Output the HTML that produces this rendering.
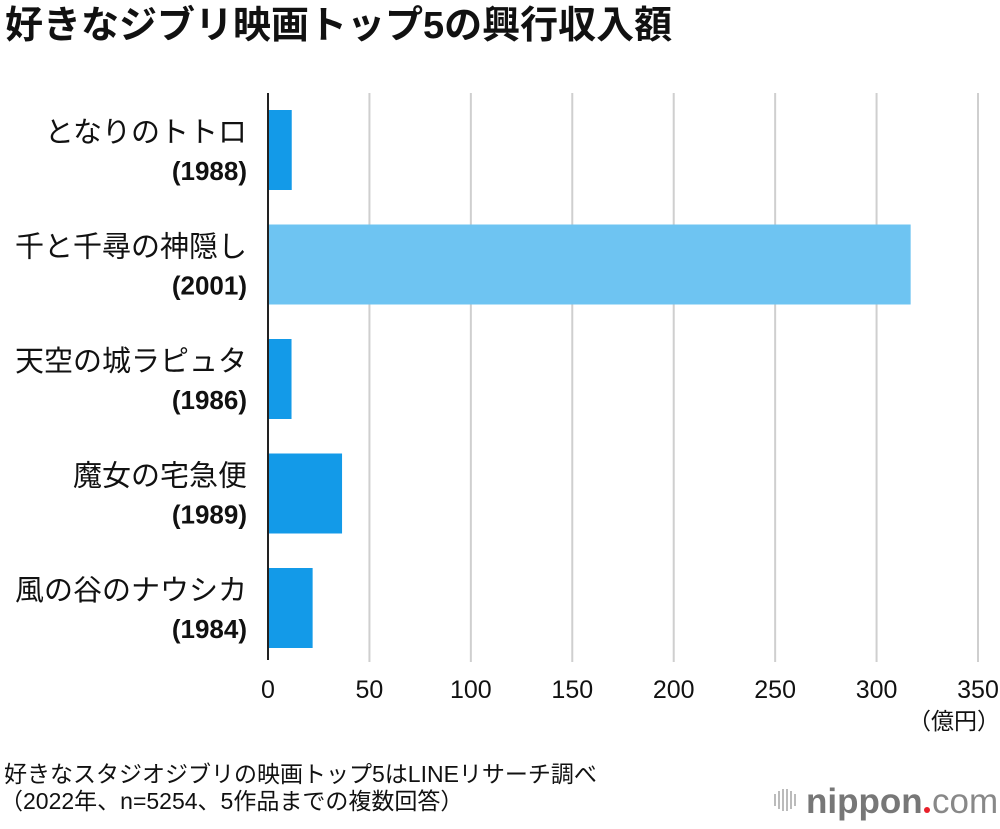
<!DOCTYPE html>
<html><head><meta charset="utf-8"><style>
body{margin:0;width:1000px;height:824px;background:#fff;overflow:hidden;font-family:"Liberation Sans","Noto Sans CJK JP",sans-serif;}
svg text{font-family:"Liberation Sans","Noto Sans CJK JP",sans-serif;}
</style></head><body>
<svg id="c" width="1000" height="824">
<text x="5" y="38" font-size="38" font-weight="bold" fill="#111">好きなジブリ映画トップ5の興行収入額</text>
<g id="grid"></g><g id="bars"></g><g id="labels"></g><g id="ticks"></g>
<line x1="268" y1="93" x2="268" y2="660" stroke="#222" stroke-width="2"/>
<text x="1000" y="729" font-size="23" text-anchor="end" fill="#111">（億円）</text>
<text x="4" y="782" font-size="23" fill="#111">好きなスタジオジブリの映画トップ5はLINEリサーチ調べ</text>
<text x="0" y="809" font-size="23" fill="#111">（2022年、n=5254、5作品までの複数回答）</text>
<g>
<g fill="#bbb"><rect x="774" y="794" width="2" height="12"/><rect x="778" y="791" width="2" height="18"/><rect x="782" y="789" width="2" height="22"/><rect x="786" y="789" width="2" height="22"/><rect x="790" y="791" width="2" height="18"/><rect x="794" y="794" width="2" height="12"/></g>
<text x="806" y="813" font-size="35" font-weight="bold" fill="#777">nippon</text>
<circle cx="927" cy="810" r="3" fill="#e8202a"/>
<text x="932" y="813" font-size="35" fill="#888">com</text>
</g>
</svg>
<script>
const categories=["となりのトトロ","千と千尋の神隠し","天空の城ラピュタ","魔女の宅急便","風の谷のナウシカ"];
const years=["(1988)","(2001)","(1986)","(1989)","(1984)"];
const values=[11.7,316.8,11.6,36.5,22];
const highlight=[false,true,false,false,false];
const tickValues=[0,50,100,150,200,250,300,350];
const NS="http://www.w3.org/2000/svg";
const x=v=>268+v*(978-268)/350;
const y=i=>110+i*114.5;
function mk(t,a,p){const e=document.createElementNS(NS,t);for(const k in a)e.setAttribute(k,a[k]);p.appendChild(e);return e;}
const G=document.getElementById('grid'),B=document.getElementById('bars'),L=document.getElementById('labels'),T=document.getElementById('ticks');
tickValues.forEach(v=>{
 if(v>0){const l=mk('line',{x1:x(v),x2:x(v),y1:93,y2:662,stroke:'#cfcfcf','stroke-width':2},G);
 
 }
 const t=mk('text',{x:x(v),y:698,'font-size':25,'text-anchor':'middle',fill:'#111'},T);t.textContent=v;
 
 
});
categories.forEach((c,i)=>{
 const r=mk('rect',{x:269,y:y(i),width:x(values[i])-269,height:80,fill:highlight[i]?'#6ec4f2':'#139ae8'},B);
 
 
 const t1=mk('text',{x:247,y:y(i)+32,'font-size':29,'text-anchor':'end',fill:'#111'},L);t1.textContent=c;
 
 
 const t2=mk('text',{x:247,y:y(i)+70,'font-size':26,'font-weight':'bold','text-anchor':'end',fill:'#111'},L);t2.textContent=years[i];
 
 
});
</script>
</body></html>
